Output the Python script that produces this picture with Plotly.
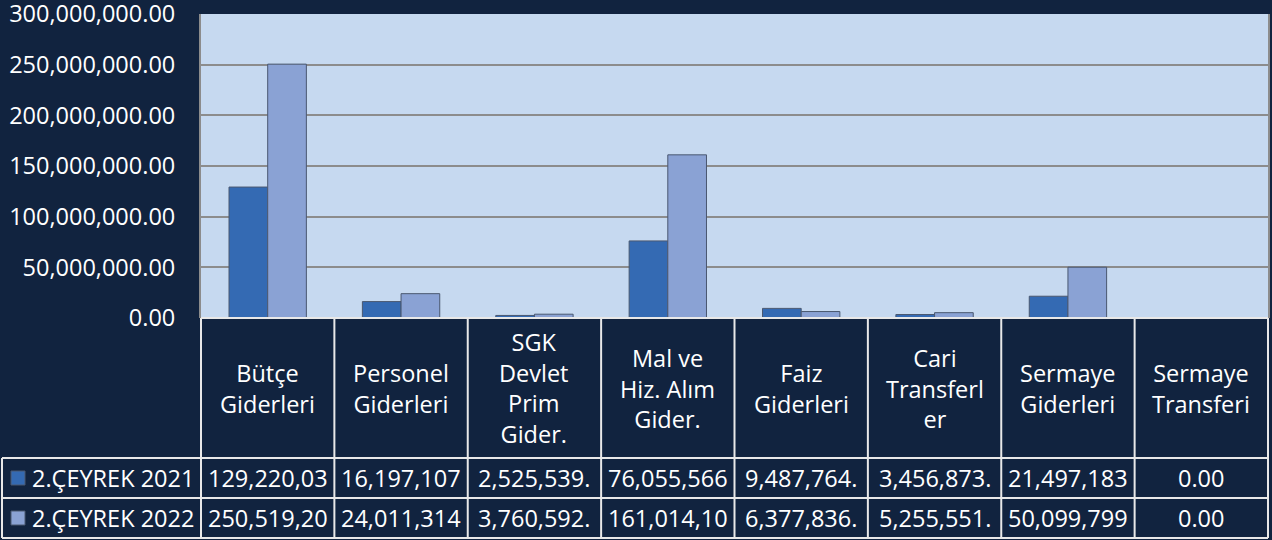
import plotly.graph_objects as go

# ---------------- data ----------------
categories = ["Bütçe Giderleri", "Personel Giderleri", "SGK Devlet Prim Gider.",
              "Mal ve Hiz. Alım Gider.", "Faiz Giderleri", "Cari Transferler",
              "Sermaye Giderleri", "Sermaye Transferi"]
header_labels = ["Bütçe<br>Giderleri", "Personel<br>Giderleri", "SGK<br>Devlet<br>Prim<br>Gider.",
                 "Mal ve<br>Hiz. Alım<br>Gider.", "Faiz<br>Giderleri", "Cari<br>Transferl<br>er",
                 "Sermaye<br>Giderleri", "Sermaye<br>Transferi"]
series_names = ["2.ÇEYREK 2021", "2.ÇEYREK 2022"]
values_2021 = [129220030, 16197107, 2525539, 76055566, 9487764, 3456873, 21497183, 0]
values_2022 = [250519200, 24011314, 3760592, 161014100, 6377836, 5255551, 50099799, 0]
y_tick_values = [0, 50000000, 100000000, 150000000, 200000000, 250000000, 300000000]

# ---------------- style ----------------
W, H = 1272, 540
BG = "#11233f"
PLOT_BG = "#c6d9f0"
GRID = "#8c8c8c"
TABLE_LINE = "#e8e8e8"
COL_2021 = "#346ab3"
COL_2022 = "#8aa2d4"
EDGE = "#4a5870"
FONT = "Open Sans"
FS = 23.5

px_left, px_right = 201, 1268
px_top, px_zero = 14, 318
hdr_bottom, row1_bottom, row2_bottom = 458, 498, 538
legend_left = 2


def fx(px):
    return px / W


def fy(py):
    return 1 - py / H


fig = go.Figure()
for name, vals, col in [(series_names[0], values_2021, COL_2021),
                        (series_names[1], values_2022, COL_2022)]:
    fig.add_trace(go.Bar(
        x=categories, y=vals, name=name,
        marker=dict(color=col, line=dict(color=EDGE, width=[1 if v else 0 for v in vals])),
    ))

shapes = []
annotations = []
ncat = len(categories)
colw = (px_right - px_left) / ncat

# table horizontal lines
for py, x0 in [(px_zero, px_left), (hdr_bottom, legend_left),
               (row1_bottom, legend_left), (row2_bottom, legend_left)]:
    shapes.append(dict(type="line", xref="paper", yref="paper",
                       x0=fx(x0), x1=fx(px_right), y0=fy(py), y1=fy(py),
                       line=dict(color=TABLE_LINE, width=2)))
# table vertical lines
for i in range(ncat + 1):
    xx = px_left + i * colw
    shapes.append(dict(type="line", xref="paper", yref="paper",
                       x0=fx(xx), x1=fx(xx), y0=fy(px_zero), y1=fy(row2_bottom),
                       line=dict(color=TABLE_LINE, width=2)))
shapes.append(dict(type="line", xref="paper", yref="paper",
                   x0=fx(legend_left), x1=fx(legend_left),
                   y0=fy(hdr_bottom), y1=fy(row2_bottom),
                   line=dict(color=TABLE_LINE, width=2)))

# header labels
for cat, lab in zip(categories, header_labels):
    annotations.append(dict(xref="x", yref="paper", x=cat, y=fy((px_zero + hdr_bottom) / 2),
                            text=lab, showarrow=False, xanchor="center", yanchor="middle",
                            font=dict(family=FONT, size=FS, color="white")))

# data rows
rows = [(series_names[0], values_2021, COL_2021, (hdr_bottom + row1_bottom) / 2),
        (series_names[1], values_2022, COL_2022, (row1_bottom + row2_bottom) / 2)]
for name, vals, col, yc in rows:
    shapes.append(dict(type="rect", xref="paper", yref="paper",
                       x0=fx(11), x1=fx(25), y0=fy(yc - 7), y1=fy(yc + 7),
                       fillcolor=col, line=dict(color=EDGE, width=1)))
    annotations.append(dict(xref="paper", yref="paper", x=fx(30), y=fy(yc),
                            text=name, showarrow=False, xanchor="left", yanchor="middle",
                            font=dict(family=FONT, size=FS, color="white")))
    for cat, v in zip(categories, vals):
        txt = f"{v:,.2f}"[:10]
        annotations.append(dict(xref="x", yref="paper", x=cat, y=fy(yc),
                                text=txt, showarrow=False, xanchor="center", yanchor="middle",
                                font=dict(family=FONT, size=FS, color="white")))

fig.update_layout(
    width=W, height=H,
    paper_bgcolor=BG, plot_bgcolor=PLOT_BG,
    margin=dict(l=0, r=0, t=0, b=0),
    showlegend=False,
    bargap=0.42, bargroupgap=0,
    shapes=shapes, annotations=annotations,
    xaxis=dict(domain=[fx(px_left), fx(px_right)], showticklabels=False, automargin=False,
               showgrid=False, zeroline=False, showline=False, fixedrange=True),
    yaxis=dict(domain=[fy(px_zero), fy(px_top)], range=[0, 300000000], automargin=False,
               tickvals=y_tick_values, tickformat=",.2f",
               showgrid=True, gridcolor=GRID, gridwidth=2,
               zeroline=False, showline=True, linecolor=GRID, linewidth=2, mirror=True,
               ticks="", ticklabelstandoff=19, ticklabeloverflow="allow",
               tickfont=dict(family=FONT, size=FS, color="white")),
)

fig.write_html("out.html", config={"displayModeBar": False},
               post_script="document.body.style.margin='0';document.body.style.overflow='hidden';")
